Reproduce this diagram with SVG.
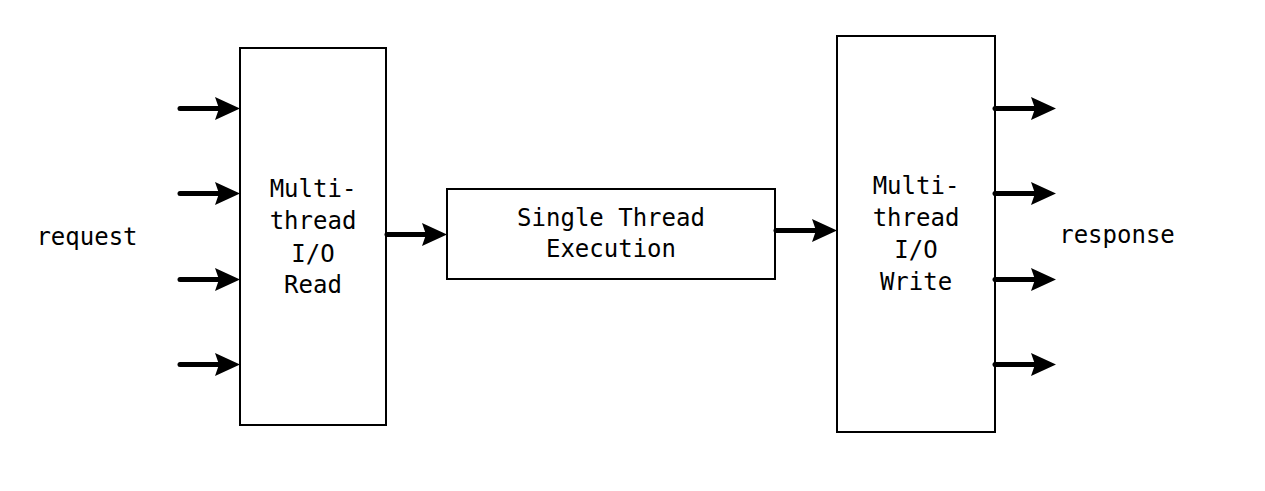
<svg xmlns="http://www.w3.org/2000/svg" width="1265" height="491" viewBox="0 0 1265 491">
<defs>
<style>
.box{fill:#fff;stroke:#000;stroke-width:2}
.t{font-family:"DejaVu Sans Mono","Liberation Mono",monospace;font-size:24px;fill:#000;text-anchor:middle}
.c{stroke:#000;stroke-width:5;stroke-linecap:round;fill:none}
</style>
<marker id="ah" markerUnits="userSpaceOnUse" viewBox="0 0 25 24" refX="13" refY="12" markerWidth="25" markerHeight="24" orient="auto" overflow="visible">
<path d="M0,0.5 L25,12 L0,23.5 L4,12 Z" fill="#000"/>
</marker>
</defs>
<rect width="1265" height="491" fill="#fff"/>
<g id="n-read">
<rect class="box" x="240" y="48" width="146" height="377"/>
<text class="t" x="313" y="197">Multi-</text>
<text class="t" x="313" y="229">thread</text>
<text class="t" x="313" y="262">I/O</text>
<text class="t" x="313" y="293">Read</text>
</g>
<g id="n-exec">
<rect class="box" x="447" y="189" width="328" height="90"/>
<text class="t" x="611" y="226">Single Thread</text>
<text class="t" x="611" y="257">Execution</text>
</g>
<g id="n-write">
<rect class="box" x="837" y="36" width="158" height="396"/>
<text class="t" x="916" y="194">Multi-</text>
<text class="t" x="916" y="226">thread</text>
<text class="t" x="916" y="258">I/O</text>
<text class="t" x="916" y="290">Write</text>
</g>
<g id="n-request"><text class="t" x="87" y="245">request</text></g>
<g id="n-response"><text class="t" x="1117" y="243">response</text></g>
<g id="connectors">
<path class="c" d="M180,108.5 H228" marker-end="url(#ah)"/>
<path class="c" d="M180,193.5 H228" marker-end="url(#ah)"/>
<path class="c" d="M180,279.5 H228" marker-end="url(#ah)"/>
<path class="c" d="M180,364.5 H228" marker-end="url(#ah)"/>
<path class="c" d="M387,234.5 H435" marker-end="url(#ah)"/>
<path class="c" d="M776,230.5 H825" marker-end="url(#ah)"/>
<path class="c" d="M995,108.5 H1044" marker-end="url(#ah)"/>
<path class="c" d="M995,193.5 H1044" marker-end="url(#ah)"/>
<path class="c" d="M995,279.5 H1044" marker-end="url(#ah)"/>
<path class="c" d="M995,364.5 H1044" marker-end="url(#ah)"/>
</g>
</svg>
